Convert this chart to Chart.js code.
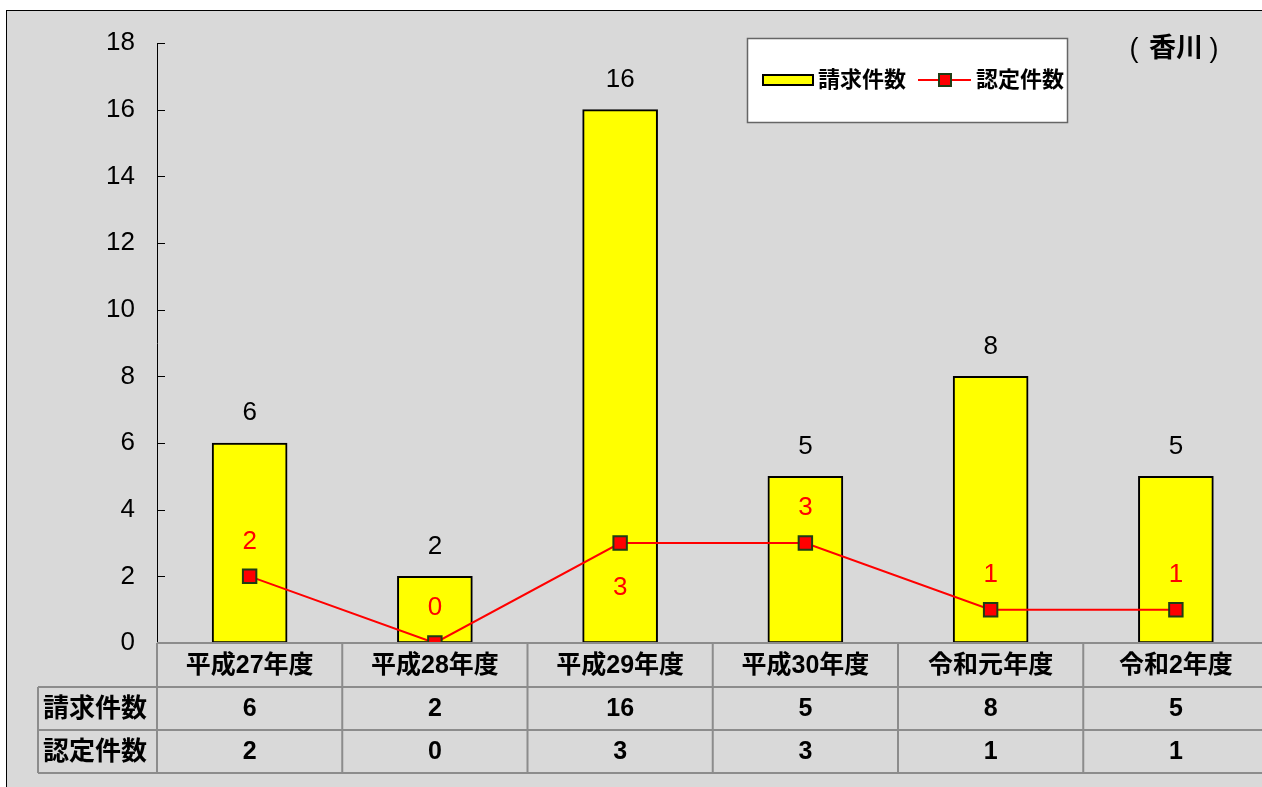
<!DOCTYPE html>
<html>
<head>
<meta charset="utf-8">
<script src="https://cdn.jsdelivr.net/npm/chart.js@4.4.1/dist/chart.umd.min.js"></script>
<style>
  html, body { margin: 0; padding: 0; overflow: hidden; background: #fff; }
  #wrap { width: 1280px; height: 787px; }
</style>
</head>
<body>
<div id="wrap"><canvas id="chart" width="1280" height="787"></canvas></div>
<script>
// data
const categories = ['平成27年度', '平成28年度', '平成29年度', '平成30年度', '令和元年度', '令和2年度'];
const requestCounts = [6, 2, 16, 5, 8, 5];
const approvedCounts = [2, 0, 3, 3, 1, 1];
const seriesNames = ['請求件数', '認定件数'];
const regionName = '香川';
const yMin = 0, yMax = 18, yStep = 2;

// which line labels sit under the point instead of above
const approvedLabelBelow = [false, false, true, false, false, false];

const FONT = '"Liberation Sans", Arial, "Noto Sans CJK JP", sans-serif';
const BG = '#d9d9d9';
const GRID = '#8c8c8c';

const decorPlugin = {
    id: 'decor',
    beforeDraw(chart) {
        const ctx = chart.ctx;
        ctx.save();
        ctx.fillStyle = '#fff';
        ctx.fillRect(0, 0, chart.width, chart.height);
        ctx.fillStyle = BG;
        ctx.fillRect(6, 10, chart.width, chart.height);
        ctx.strokeStyle = '#000';
        ctx.lineWidth = 1;
        ctx.strokeRect(6.5, 10.5, chart.width, chart.height);
        ctx.restore();
    },
    afterDraw(chart) {
        const ctx = chart.ctx;
        const area = chart.chartArea;
        const x = chart.scales.x;
        const y = chart.scales.y;
        ctx.save();

        // inward tick marks on the y axis
        ctx.strokeStyle = '#000';
        ctx.lineWidth = 1;
        for (let v = yMin; v <= yMax; v += yStep) {
            const py = Math.round(y.getPixelForValue(v)) + 0.5;
            ctx.beginPath();
            ctx.moveTo(area.left, py);
            ctx.lineTo(area.left + 8, py);
            ctx.stroke();
        }

        // value labels
        ctx.textAlign = 'center';
        ctx.textBaseline = 'middle';
        ctx.font = '26px ' + FONT;
        ctx.fillStyle = '#000';
        requestCounts.forEach((v, i) => {
            ctx.fillText(String(v), x.getPixelForValue(i), y.getPixelForValue(v) - 30);
        });
        ctx.fillStyle = '#ff0000';
        approvedCounts.forEach((v, i) => {
            const off = approvedLabelBelow[i] ? 45 : -35;
            ctx.fillText(String(v), x.getPixelForValue(i), y.getPixelForValue(v) + off);
        });

        // data table under the plot
        const colW = (area.right - area.left) / categories.length;
        const rowTop = area.bottom;
        const rows = [rowTop, 687, 730, 773];
        const tableLeft = 38;
        ctx.strokeStyle = GRID;
        ctx.lineWidth = 2;
        ctx.beginPath();
        ctx.moveTo(area.left, rows[0]);
        ctx.lineTo(chart.width, rows[0]);
        for (let r = 1; r < rows.length; r++) {
            ctx.moveTo(tableLeft, rows[r]);
            ctx.lineTo(chart.width, rows[r]);
        }
        ctx.moveTo(tableLeft, rows[1]);
        ctx.lineTo(tableLeft, rows[3]);
        for (let c = 0; c <= categories.length; c++) {
            const cx = area.left + c * colW;
            ctx.moveTo(cx, rows[0]);
            ctx.lineTo(cx, rows[3]);
        }
        ctx.stroke();

        ctx.fillStyle = '#000';
        ctx.font = 'bold 25px ' + FONT;
        categories.forEach((c, i) => {
            const cx = x.getPixelForValue(i);
            ctx.fillText(c, cx, (rows[0] + rows[1]) / 2 + 1);
            ctx.fillText(String(requestCounts[i]), cx, (rows[1] + rows[2]) / 2 + 1);
            ctx.fillText(String(approvedCounts[i]), cx, (rows[2] + rows[3]) / 2 + 1);
        });
        ctx.textAlign = 'left';
        ctx.font = 'bold 26px ' + FONT;
        ctx.fillText(seriesNames[0], 43, (rows[1] + rows[2]) / 2 + 1);
        ctx.fillText(seriesNames[1], 43, (rows[2] + rows[3]) / 2 + 1);

        // legend box
        ctx.fillStyle = '#fff';
        ctx.fillRect(747, 38, 320, 84);
        ctx.strokeStyle = '#666';
        ctx.lineWidth = 1.5;
        ctx.strokeRect(747.5, 38.5, 320, 84);
        const ly = 80;
        ctx.fillStyle = '#ffff00';
        ctx.fillRect(763, ly - 5, 50, 10);
        ctx.strokeStyle = '#000';
        ctx.lineWidth = 2;
        ctx.strokeRect(763, ly - 5, 50, 10);
        ctx.fillStyle = '#000';
        ctx.font = 'bold 22px ' + FONT;
        ctx.textAlign = 'left';
        ctx.fillText(seriesNames[0], 818, ly + 1);
        ctx.strokeStyle = '#ff0000';
        ctx.lineWidth = 2;
        ctx.beginPath();
        ctx.moveTo(918, ly);
        ctx.lineTo(971, ly);
        ctx.stroke();
        ctx.fillStyle = '#ff0000';
        ctx.fillRect(939, ly - 6, 12, 12);
        ctx.strokeStyle = '#1e3d14';
        ctx.strokeRect(939, ly - 6, 12, 12);
        ctx.fillStyle = '#000';
        ctx.fillText(seriesNames[1], 976, ly + 1);

        // region label: thin parens around bold name
        ctx.textAlign = 'center';
        ctx.font = 'bold 27px ' + FONT;
        ctx.fillText(regionName, 1176, 50);
        ctx.font = '27px ' + FONT;
        ctx.fillText('(', 1134, 50);
        ctx.fillText(')', 1214, 50);

        ctx.restore();
    }
};

new Chart(document.getElementById('chart'), {
    data: {
        labels: categories,
        datasets: [
            {
                type: 'line',
                label: seriesNames[1],
                data: approvedCounts,
                borderColor: '#ff0000',
                borderWidth: 2,
                backgroundColor: '#ff0000',
                pointStyle: 'rect',
                pointRadius: 9.5,
                pointBorderWidth: 2,
                pointBorderColor: '#1e3d14',
                pointBackgroundColor: '#ff0000',
                tension: 0,
                order: 1
            },
            {
                type: 'bar',
                label: seriesNames[0],
                data: requestCounts,
                backgroundColor: '#ffff00',
                borderColor: '#000',
                borderWidth: 2,
                borderSkipped: false,
                barThickness: 75,
                order: 2
            }
        ]
    },
    options: {
        responsive: false,
        animation: false,
        layout: { padding: { left: 0, right: 10, top: 43, bottom: 144 } },
        plugins: {
            legend: { display: false },
            tooltip: { enabled: false }
        },
        scales: {
            x: {
                display: false
            },
            y: {
                min: yMin,
                max: yMax,
                afterFit(scale) { scale.width = 157; },
                ticks: {
                    stepSize: yStep,
                    color: '#000',
                    font: { family: FONT, size: 26 },
                    padding: 22
                },
                grid: { display: false, drawTicks: false },
                border: { display: true, color: '#000', width: 1 }
            }
        }
    },
    plugins: [decorPlugin]
});
</script>
</body>
</html>
